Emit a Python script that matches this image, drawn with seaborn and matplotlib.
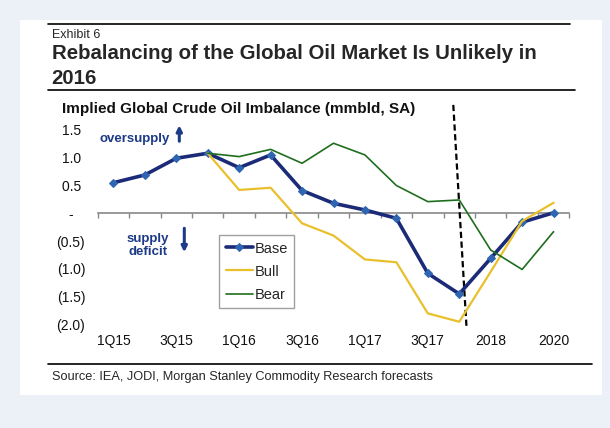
import numpy as np
import pandas as pd
import matplotlib
matplotlib.use("Agg")
import matplotlib.pyplot as plt
import seaborn as sns
from matplotlib.patches import Rectangle, FancyArrowPatch
from matplotlib.lines import Line2D

# ---------------- data ----------------
categories = ["1Q15", "2Q15", "3Q15", "4Q15", "1Q16", "2Q16", "3Q16", "4Q16",
              "1Q17", "2Q17", "3Q17", "4Q17", "2018", "2019", "2020"]
base = [0.55, 0.69, 0.99, 1.08, 0.82, 1.05, 0.41, 0.18, 0.06, -0.09,
        -1.08, -1.45, -0.81, -0.16, 0.01]
bull = [np.nan, np.nan, np.nan, 1.08, 0.42, 0.46, -0.18, -0.40, -0.83, -0.88,
        -1.80, -1.95, -1.05, -0.14, 0.19]
bear = [np.nan, np.nan, np.nan, 1.08, 1.02, 1.15, 0.90, 1.26, 1.05, 0.50,
        0.21, 0.24, -0.66, -1.01, -0.33]
xtick_labels = ["1Q15", "3Q15", "1Q16", "3Q16", "1Q17", "3Q17", "2018", "2020"]
ytick_values = [-2.0, -1.5, -1.0, -0.5, 0.0, 0.5, 1.0, 1.5]
ytick_labels = ["(2.0)", "(1.5)", "(1.0)", "(0.5)", "-", "0.5", "1.0", "1.5"]
series_names = ["Base", "Bull", "Bear"]
forecast_line_x = [10.81, 11.23]   # hand-drawn forecast divider (slightly slanted)
forecast_line_y = [1.95, -2.04]

# ---------------- style ----------------
sns.set_style("white")
plt.rcParams["font.family"] = ["Liberation Sans", "DejaVu Sans"]

W, H = 610, 428
def fx(px):
    return px / W
def fy(py):
    return 1 - py / H

NAVY = "#1B2B78"
MARK = "#2F66B2"
YELLOW = "#E9C02C"
GREEN = "#1F6E1F"
ANNOT = "#1C3A86"

fig = plt.figure(figsize=(W / 100, H / 100), dpi=100)
fig.patch.set_facecolor("#ECF1F8")
fig.add_artist(Rectangle((fx(20), fy(395)), fx(601.7) - fx(20), fy(20) - fy(395),
                         transform=fig.transFigure, facecolor="white",
                         edgecolor="none", zorder=-5))

ymin, ymax = -2.05, 2.0
ax = fig.add_axes([fx(97.7), fy(327.3), fx(569.3) - fx(97.7), fy(102.1) - fy(327.3)])
ax.set_facecolor("none")

pos = np.arange(len(categories))
df = pd.DataFrame({"pos": pos, "Base": base, "Bull": bull, "Bear": bear})

sns.lineplot(data=df, x="pos", y="Base", ax=ax, color=NAVY, lw=2.6,
             marker="D", markersize=4.5, markerfacecolor=MARK,
             markeredgecolor=MARK, label="Base", zorder=4)
sns.lineplot(data=df, x="pos", y="Bull", ax=ax, color=YELLOW, lw=1.6,
             label="Bull", zorder=4)
sns.lineplot(data=df, x="pos", y="Bear", ax=ax, color=GREEN, lw=1.2,
             label="Bear", zorder=4)

ax.plot(forecast_line_x, forecast_line_y, color="black", lw=1.6,
        linestyle=(0, (2.8, 1.6)), zorder=3)

ax.set_xlim(-0.5, len(categories) - 0.5)
ax.set_ylim(ymin, ymax)
for s in ax.spines.values():
    s.set_visible(False)

ax.set_xticks(pos[::2])
ax.set_xticklabels(xtick_labels)
ax.set_yticks(ytick_values)
ax.set_yticklabels([lab if lab.startswith("(") else (lab + " " if lab != "-" else "-   ")
                    for lab in ytick_labels])
ax.tick_params(axis="x", length=0, pad=4.5, labelsize=10, labelcolor="#111111")
ax.tick_params(axis="y", length=0, pad=9, labelsize=10, labelcolor="#111111")
ax.set_xlabel("")
ax.set_ylabel("")

# zero axis with category separators
zfrac = (0 - ymin) / (ymax - ymin)
sec = ax.secondary_xaxis(zfrac)
sec.set_xticks(np.arange(-0.5, len(categories), 1.0))
sec.tick_params(length=3.5, direction="in" if zfrac >= 0.5 else "out",
                color="#888888", width=1.0, labeltop=False, labelbottom=False)
for s in sec.spines.values():
    s.set_color("#888888")
    s.set_linewidth(1.2)

leg = ax.legend(loc="upper left", bbox_to_anchor=(fx(219.3), fy(235)),
                bbox_transform=fig.transFigure, borderaxespad=0, fontsize=10.5,
                frameon=True, fancybox=False, framealpha=1, edgecolor="#A0A0A0",
                handlelength=1.85, handletextpad=0.1, borderpad=0.45,
                labelspacing=0.62)
leg.get_frame().set_linewidth(1.0)

# ---------------- annotations ----------------
fig.text(fx(99.3), fy(139), "oversupply", fontsize=9.5, fontweight="bold",
         color=ANNOT, ha="left", va="center")
fig.add_artist(FancyArrowPatch((fx(179.3), fy(144)), (fx(179.3), fy(122.5)),
                               transform=fig.transFigure, arrowstyle="-|>",
                               mutation_scale=8, lw=2.2, color=ANNOT))
fig.text(fx(148), fy(245.5), "supply\ndeficit", fontsize=9.5, fontweight="bold",
         color=ANNOT, ha="center", va="center", linespacing=1.12)
fig.add_artist(FancyArrowPatch((fx(184.3), fy(225.5)), (fx(184.3), fy(255)),
                               transform=fig.transFigure, arrowstyle="-|>",
                               mutation_scale=8, lw=2.2, color=ANNOT))

# ---------------- titles & rules ----------------
fig.add_artist(Line2D([fx(47.7), fx(570)], [fy(23.5), fy(23.5)],
                      transform=fig.transFigure, color="black", lw=1.2))
fig.text(fx(51.7), fy(37.8), "Exhibit 6", fontsize=9, ha="left", va="baseline")
fig.text(fx(51.7), fy(59.3), "Rebalancing of the Global Oil Market Is Unlikely in",
         fontsize=14.7, fontweight="bold", ha="left", va="baseline")
fig.text(fx(51.7), fy(83.8), "2016", fontsize=14.7, fontweight="bold",
         ha="left", va="baseline")
fig.add_artist(Line2D([fx(47.7), fx(575)], [fy(90), fy(90)],
                      transform=fig.transFigure, color="black", lw=1.2))
fig.text(fx(61.7), fy(109), "Implied Global Crude Oil Imbalance (mmbld, SA)",
         fontsize=11, fontweight="bold", ha="left", va="center", color="#111111")
fig.add_artist(Line2D([fx(48.3), fx(592)], [fy(363.5), fy(363.5)],
                      transform=fig.transFigure, color="black", lw=1.2))
fig.text(fx(52), fy(377), "Source: IEA, JODI, Morgan Stanley Commodity Research forecasts",
         fontsize=9.2, ha="left", va="center")

fig.savefig("out.png", dpi=100)
